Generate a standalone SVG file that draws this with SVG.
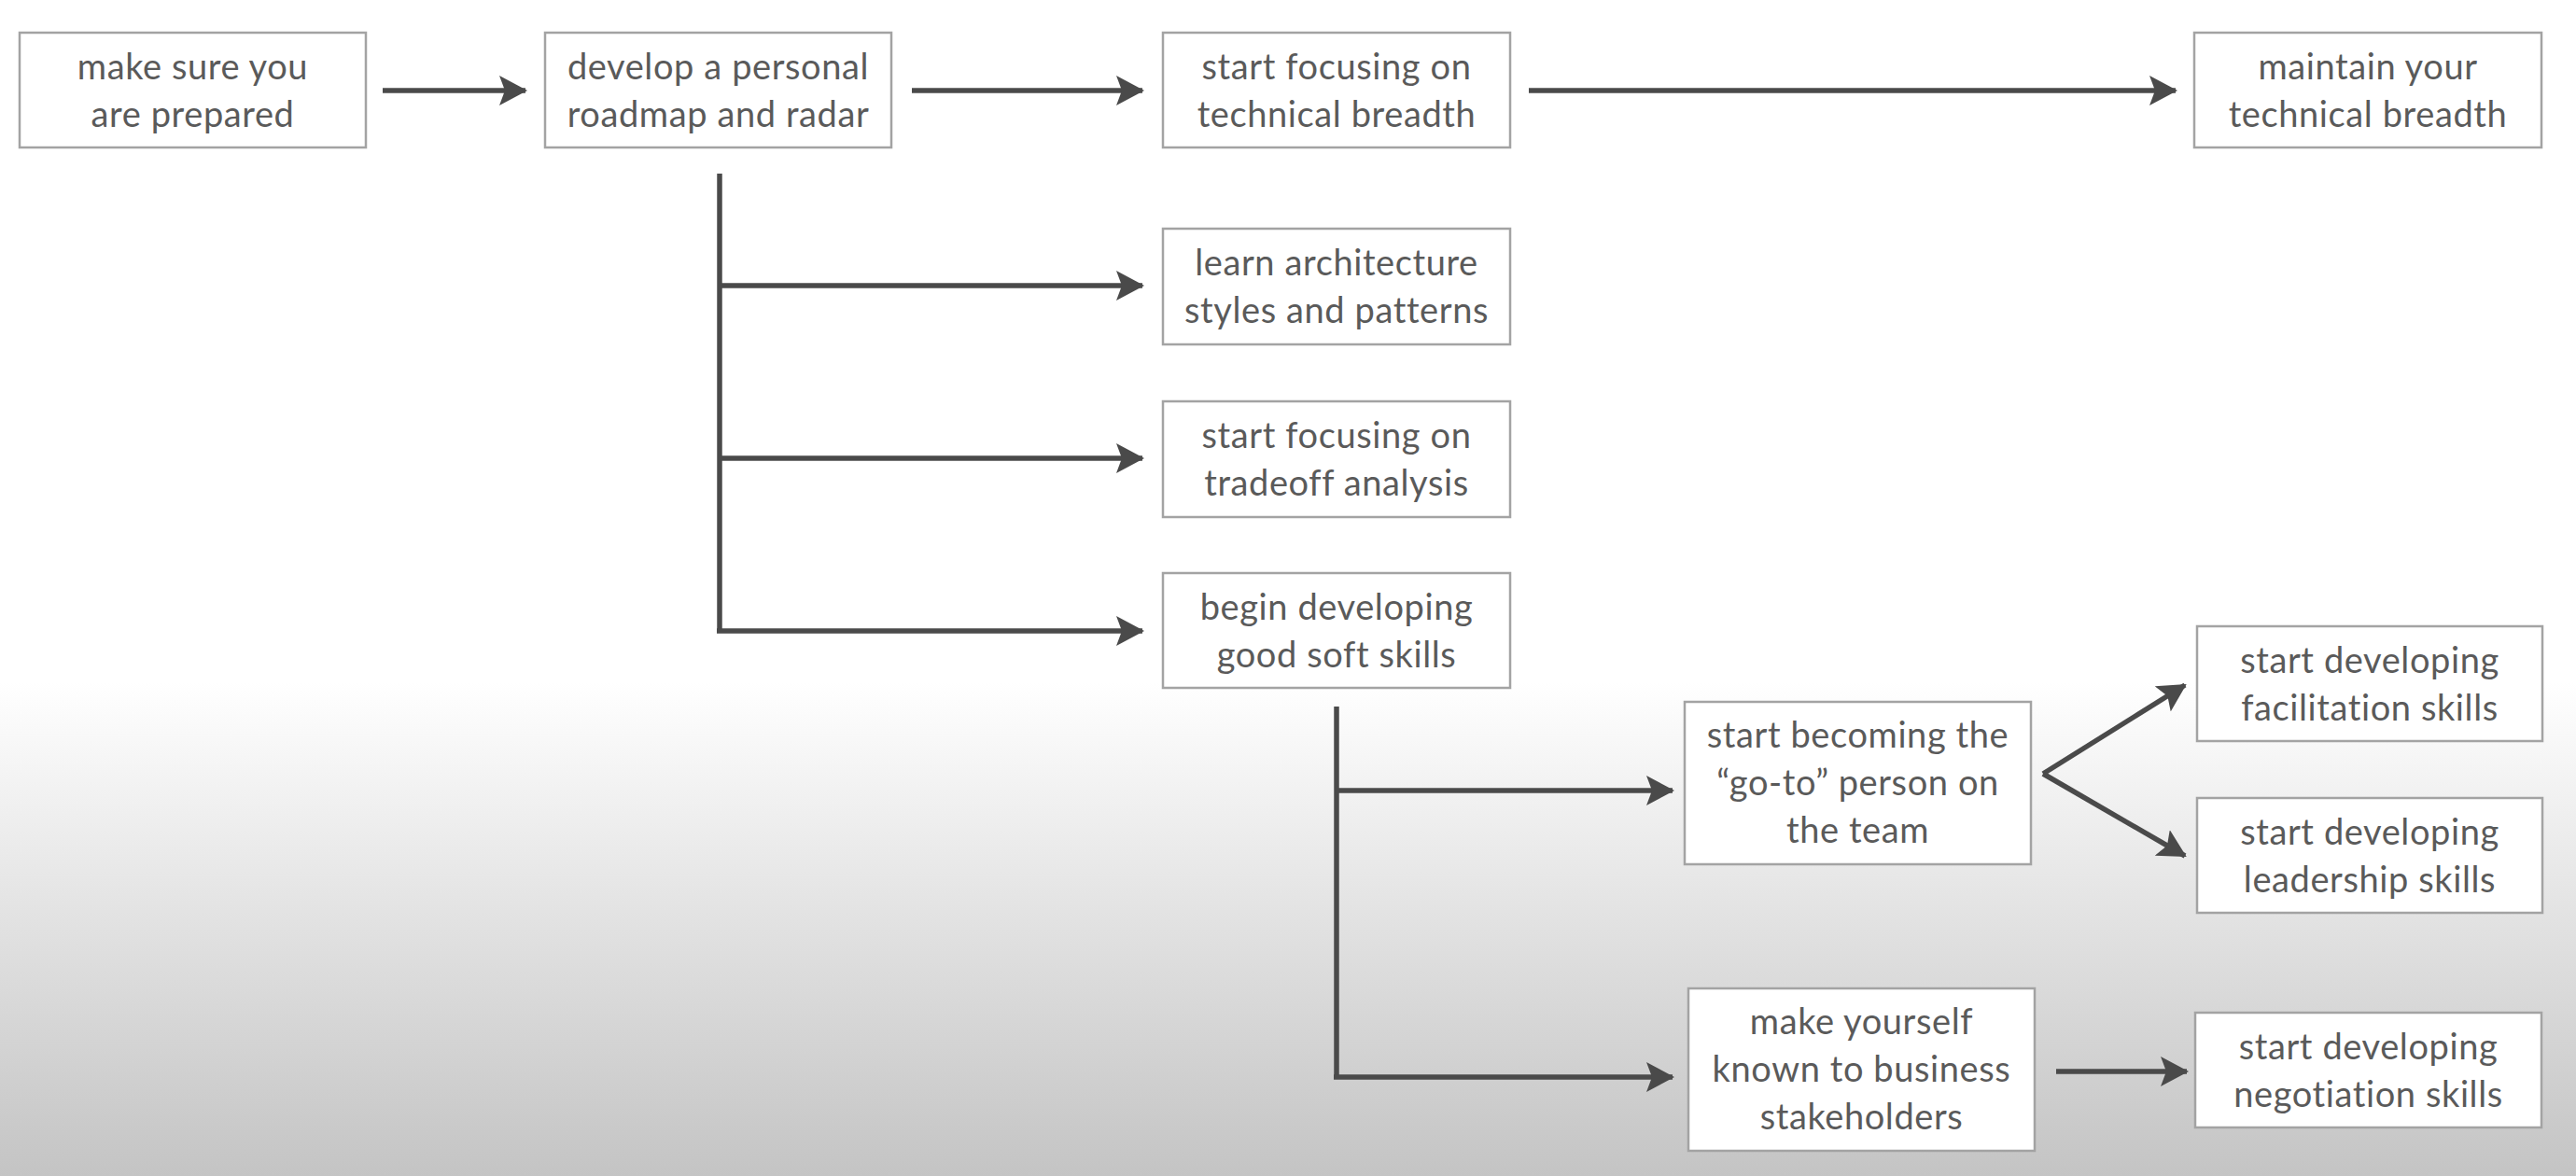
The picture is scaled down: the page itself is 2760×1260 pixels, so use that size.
<svg xmlns="http://www.w3.org/2000/svg" width="2760" height="1260" viewBox="0 0 2760 1260">
<style>
.box{fill:#ffffff;stroke:#a3a3a3;stroke-width:2.5}
.t{font-family:Lato,"Open Sans","Liberation Sans",sans-serif;font-size:38px;letter-spacing:0.6px;fill:#5a5a5a;text-anchor:middle}
.c{fill:none;stroke:#4a4a4a;stroke-width:5.5}
.a{fill:none;stroke:#4a4a4a;stroke-width:5.5;marker-end:url(#arr)}
</style>
<defs>
<linearGradient id="bg" x1="0" y1="0" x2="0" y2="1260" gradientUnits="userSpaceOnUse">
<stop offset="0" stop-color="#ffffff"/>
<stop offset="0.58" stop-color="#ffffff"/>
<stop offset="0.81" stop-color="#dedede"/>
<stop offset="1" stop-color="#c4c4c4"/>
</linearGradient>
<marker id="arr" viewBox="0 0 32 32" refX="28" refY="16" markerWidth="32" markerHeight="32" markerUnits="userSpaceOnUse" orient="auto">
<path d="M0,0 L30,16 L0,32 L6,16 Z" fill="#4a4a4a"/>
</marker>
</defs>
<rect width="2760" height="1260" fill="url(#bg)"/>

<g id="connectors">
<line class="a" x1="410" y1="97" x2="563" y2="97"/>
<line class="a" x1="977" y1="97" x2="1224" y2="97"/>
<line class="a" x1="1638" y1="97" x2="2331" y2="97"/>
<polyline class="c" points="771,186 771,676"/>
<line class="a" x1="771" y1="306" x2="1224" y2="306"/>
<line class="a" x1="771" y1="491" x2="1224" y2="491"/>
<line class="a" x1="768" y1="676" x2="1224" y2="676"/>
<polyline class="c" points="1432,757 1432,1154"/>
<line class="a" x1="1432" y1="847" x2="1792" y2="847"/>
<line class="a" x1="1429" y1="1154" x2="1792" y2="1154"/>
<line class="a" x1="2189" y1="829" x2="2341" y2="734"/>
<line class="a" x1="2189" y1="829" x2="2341" y2="917"/>
<line class="a" x1="2203" y1="1148" x2="2343" y2="1148"/>
</g>

<g id="n1"><rect class="box" x="21" y="35" width="371" height="123"/>
<text class="t" x="206.5" y="85">make sure you</text><text class="t" x="206.5" y="136">are prepared</text></g>

<g id="n2"><rect class="box" x="584" y="35" width="371" height="123"/>
<text class="t" x="769.5" y="85">develop a personal</text><text class="t" x="769.5" y="136">roadmap and radar</text></g>

<g id="n3"><rect class="box" x="1246" y="35" width="372" height="123"/>
<text class="t" x="1432" y="85">start focusing on</text><text class="t" x="1432" y="136">technical breadth</text></g>

<g id="n4"><rect class="box" x="2351" y="35" width="372" height="123"/>
<text class="t" x="2537" y="85">maintain your</text><text class="t" x="2537" y="136">technical breadth</text></g>

<g id="n5"><rect class="box" x="1246" y="245" width="372" height="124"/>
<text class="t" x="1432" y="295">learn architecture</text><text class="t" x="1432" y="346">styles and patterns</text></g>

<g id="n6"><rect class="box" x="1246" y="430" width="372" height="124"/>
<text class="t" x="1432" y="480">start focusing on</text><text class="t" x="1432" y="531">tradeoff analysis</text></g>

<g id="n7"><rect class="box" x="1246" y="614" width="372" height="123"/>
<text class="t" x="1432" y="664">begin developing</text><text class="t" x="1432" y="715">good soft skills</text></g>

<g id="n8"><rect class="box" x="1805" y="752" width="371" height="174"/>
<text class="t" x="1990.5" y="801">start becoming the</text><text class="t" x="1990.5" y="852">“go-to” person on</text><text class="t" x="1990.5" y="903">the team</text></g>

<g id="n9"><rect class="box" x="2354" y="671" width="370" height="123"/>
<text class="t" x="2539" y="721">start developing</text><text class="t" x="2539" y="772">facilitation skills</text></g>

<g id="n10"><rect class="box" x="2354" y="855" width="370" height="123"/>
<text class="t" x="2539" y="905">start developing</text><text class="t" x="2539" y="956">leadership skills</text></g>

<g id="n11"><rect class="box" x="1809" y="1059" width="371" height="174"/>
<text class="t" x="1994.5" y="1108">make yourself</text><text class="t" x="1994.5" y="1159">known to business</text><text class="t" x="1994.5" y="1210">stakeholders</text></g>

<g id="n12"><rect class="box" x="2352" y="1085" width="371" height="123"/>
<text class="t" x="2537.5" y="1135">start developing</text><text class="t" x="2537.5" y="1186">negotiation skills</text></g>
</svg>
